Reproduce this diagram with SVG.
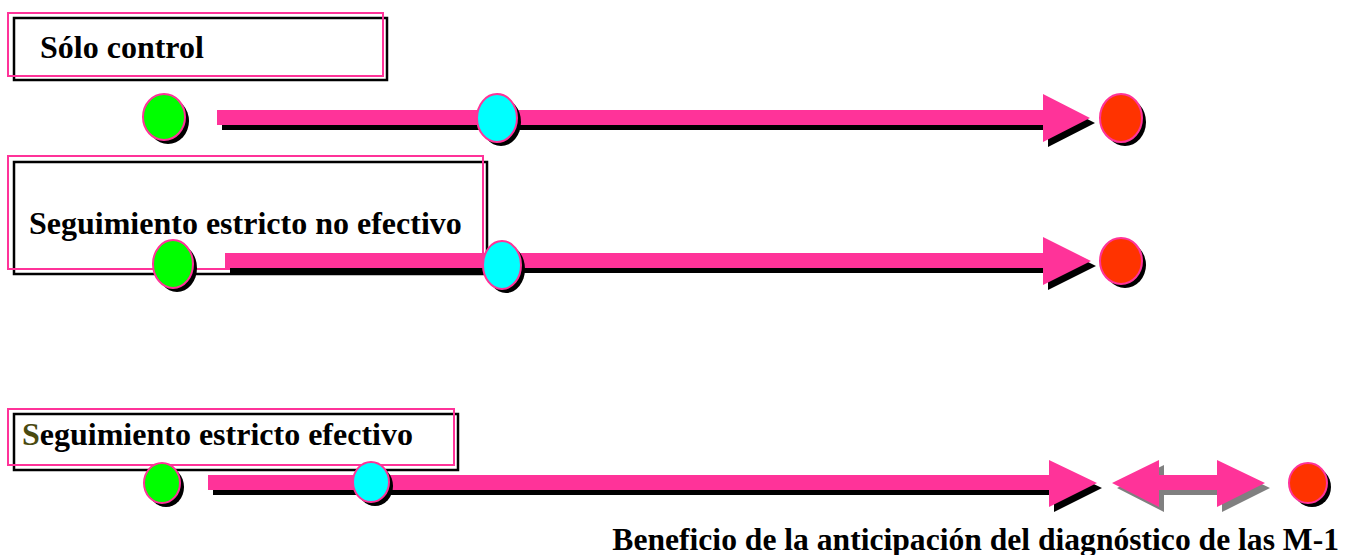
<svg xmlns="http://www.w3.org/2000/svg" xmlns:xlink="http://www.w3.org/1999/xlink" width="1345" height="555" viewBox="0 0 1345 555">
<style>
.lbl{font-family:"Liberation Serif","Times New Roman",serif;font-weight:bold;font-size:32px;fill:#000}
.boxk{fill:#fff;stroke:#000;stroke-width:2.5}
.boxp{fill:none;stroke:#ff3399;stroke-width:2}
.bar{fill:#ff3399}
.shd{fill:#000}
.shg{fill:#808080}
.dot{stroke:#ff3399;stroke-width:2}
.g{fill:#00ff00}.c{fill:#00ffff}.r{fill:#ff3300}
</style>
<rect width="1345" height="555" fill="#fff"/>

<g id="box-solo-control">
<rect class="boxk" x="14" y="18" width="373" height="62"/>
<rect class="boxp" x="8" y="13" width="375" height="63"/>
<text class="lbl" x="40" y="58">Sólo control</text>
</g>
<g id="box-no-efectivo">
<rect class="boxk" x="14" y="162" width="473" height="112"/>
<rect class="boxp" x="8" y="156" width="475" height="113"/>
<text class="lbl" x="29" y="234">Seguimiento estricto no efectivo</text>
</g>
<g id="box-efectivo">
<rect class="boxk" x="14" y="414" width="444" height="56"/>
<rect class="boxp" x="8" y="409" width="446" height="56"/>
<text class="lbl" x="22" y="445"><tspan fill="#4a4a10">S</tspan>eguimiento estricto efectivo</text>
</g>

<g id="connectors">
<polygon class="shd" transform="translate(5,5)" points="217,110 1043,110 1043,94 1090,118 1043,142 1043,125 217,125"/>
<polygon class="bar" points="217,110 1043,110 1043,94 1090,118 1043,142 1043,125 217,125"/>
<polygon class="shd" transform="translate(5,5)" points="225,253 1043,253 1043,237 1091,261 1043,285 1043,268 225,268"/>
<polygon class="bar" points="225,253 1043,253 1043,237 1091,261 1043,285 1043,268 225,268"/>
<polygon class="shd" transform="translate(5,5)" points="208,475 1049,475 1049,460 1097,483 1049,507 1049,490 208,490"/>
<polygon class="bar" points="208,475 1049,475 1049,460 1097,483 1049,507 1049,490 208,490"/>
<polygon class="shg" transform="translate(5,5)" points="1112,483 1159,460 1159,475 1217,475 1217,460 1265,483 1217,507 1217,490 1159,490 1159,507"/>
<polygon class="bar" points="1112,483 1159,460 1159,475 1217,475 1217,460 1265,483 1217,507 1217,490 1159,490 1159,507"/>
</g>

<g id="row1-green"><ellipse class="shd" cx="168" cy="121" rx="21" ry="23"/><ellipse class="dot g" cx="164" cy="117" rx="21" ry="23"/></g>
<g id="row1-cyan"><ellipse class="shd" cx="501" cy="122" rx="20" ry="24"/><ellipse class="dot c" cx="497" cy="118" rx="20" ry="24"/></g>
<g id="row1-red"><ellipse class="shd" cx="1125" cy="122" rx="21" ry="24"/><ellipse class="dot r" cx="1121" cy="118" rx="21" ry="24"/></g>

<g id="row2-green"><ellipse class="shd" cx="177" cy="268" rx="20" ry="24"/><ellipse class="dot g" cx="173" cy="264" rx="20" ry="24"/></g>
<g id="row2-cyan"><ellipse class="shd" cx="506" cy="269" rx="19" ry="24"/><ellipse class="dot c" cx="502" cy="265" rx="19" ry="24"/></g>
<g id="row2-red"><ellipse class="shd" cx="1125" cy="265" rx="21" ry="23"/><ellipse class="dot r" cx="1121" cy="261" rx="21" ry="23"/></g>

<g id="row3-green"><ellipse class="shd" cx="166" cy="487" rx="18" ry="20"/><ellipse class="dot g" cx="162" cy="483" rx="18" ry="20"/></g>
<g id="row3-cyan"><ellipse class="shd" cx="375" cy="486" rx="18" ry="20"/><ellipse class="dot c" cx="371" cy="482" rx="18" ry="20"/></g>
<g id="row3-red"><ellipse class="shd" cx="1312" cy="487" rx="19" ry="20"/><ellipse class="dot r" cx="1308" cy="483" rx="19" ry="20"/></g>

<g id="caption">
<text class="lbl" x="1339" y="550" text-anchor="end" style="font-size:31.6px">Beneficio de la anticipación del diagnóstico de las M-1</text>
</g>
</svg>
